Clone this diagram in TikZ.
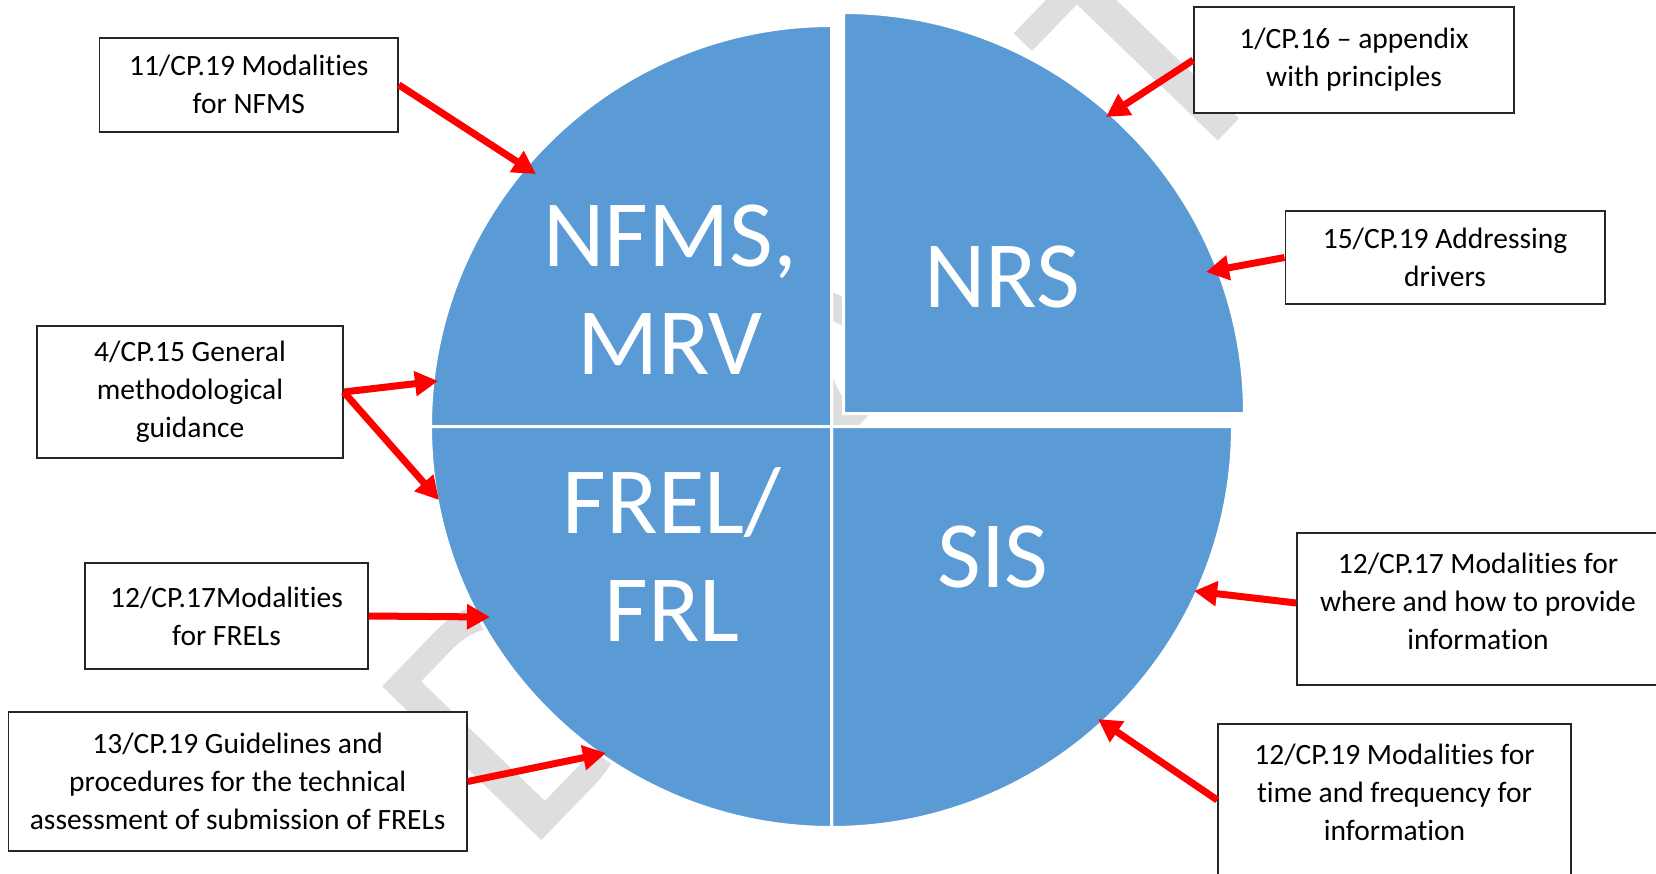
\documentclass[tikz,border=0pt]{standalone}
\usepackage{fontspec}
\setmainfont{Carlito}[Ligatures={TeX,NoCommon}]
\usetikzlibrary{arrows.meta, positioning, calc}
\definecolor{pieblue}{HTML}{5B9BD5}
\definecolor{wmgray}{HTML}{DEDEDE}

\tikzset{
  slice/.style={fill=pieblue, draw=white, line width=3pt},
  bigtxt/.style={text=white, font=\fontsize{95}{108}\selectfont, text width=330pt,
    align=center, anchor=base, inner sep=0pt},
  box/.style={draw=black!85, line width=1.5pt, fill=white, align=center,
    font=\fontsize{29.5}{38}\selectfont, inner sep=0pt},
  arr/.style={draw=red, line width=7pt, -{Triangle[length=23pt, width=24pt]}},
  wmark/.style={text=wmgray, font=\fontsize{345}{345}\selectfont, inner sep=0pt,
    rotate=46, anchor=base}
}

\begin{document}
\begin{tikzpicture}[x=1pt, y=-1pt]
  \useasboundingbox (0,0) rectangle (1656,873);

  % watermark, one letter at a time along the diagonal
  \coordinate (wm0) at (573.9,807.9);
  \foreach \l/\u in {D/37, R/280, A/516, F/737, T/943} {
    \node[wmark] (wm\l) at ($(wm0)+(-46:\u)$) {\l};
  }

  % pie in four slices, NRS pulled out
  \coordinate (c) at (831.5,426.5);
  \def\rad{401}
  \foreach \a/\dx/\dy in {180/0/0, 270/12/-13, 0/0/0, 90/0/0} {
    \path[slice] ($(c)+(\dx,\dy)$) -- ++(\a:\rad)
      arc[start angle=\a, delta angle=90, radius=\rad] -- cycle;
  }
  \node[bigtxt] (nfms) at (670,266) {NFMS,\\MRV};
  \node[bigtxt] (nrs) at (1002,307) {NRS};
  \node[bigtxt] (frel) at (672,533) {FREL/\\FRL};
  \node[bigtxt] (sis) at (993,587) {SIS};

  % decision boxes
  \node[box, minimum width=298.5pt, minimum height=94pt] (b1) at (248.75,84.85)
    {11/CP.19 Modalities\\for NFMS};
  \node[box, minimum width=306pt, minimum height=132pt] (b2) at (190,392)
    {4/CP.15 General\\methodological\\guidance};
  \node[box, minimum width=283pt, minimum height=106pt] (b3) at (226.5,616)
    {12/CP.17Modalities\\for FRELs};
  \node[box, minimum width=458.5pt, minimum height=139pt] (b4) at (237.75,781.5)
    {13/CP.19 Guidelines and\\procedures for the technical\\assessment of submission of FRELs};
  \node[box, minimum width=320pt, minimum height=106pt] (b5) at (1354,60)
    {1/CP.16 – appendix\\with principles};
  \node[box, minimum width=319.5pt, minimum height=93pt] (b6) at (1445,257.5)
    {15/CP.19 Addressing\\drivers};
  \node[box, minimum width=362pt, minimum height=152pt] (b7) at (1478,609)
    {12/CP.17 Modalities for\\where and how to provide\\information\\[-22pt]\mbox{}};
  \node[box, minimum width=353pt, minimum height=152pt] (b8) at (1394.5,800)
    {12/CP.19 Modalities for\\time and frequency for\\information\\[-22pt]\mbox{}};

  % arrow tips on the pie
  \coordinate (t1) at (536,174);
  \coordinate (t2) at (438,381);
  \coordinate (t3) at (439,500);
  \coordinate (t4) at (490,617);
  \coordinate (t5) at (606,753);
  \coordinate (t6) at (1106,117);
  \coordinate (t7) at (1206,272);
  \coordinate (t8) at (1194,591);
  \coordinate (t9) at (1098,719);

  \draw[arr] (b1.east) -- (t1);
  \draw[arr] (b2.east) -- (t2);
  \draw[arr] (b2.east) -- (t3);
  \draw[arr] (b3.east) -- (t4);
  \draw[arr] (b4.east) -- (t5);
  \draw[arr] (b5.west) -- (t6);
  \draw[arr] (b6.west) -- (t7);
  \draw[arr] ([yshift=6pt]b7.west) -- (t8);
  \draw[arr] (b8.west) -- (t9);
\end{tikzpicture}
\end{document}
